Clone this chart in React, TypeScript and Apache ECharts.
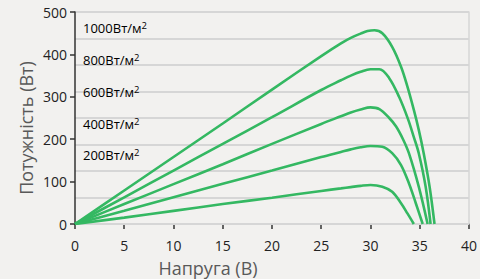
import React, { useEffect, useRef } from "react";
import * as echarts from "echarts";

const xTicks = { min: 0, max: 40, interval: 5 };
const yTicks = { min: 0, max: 500, interval: 100 };

const v1000 = [0, 5, 10, 15, 20, 25, 27, 28, 29, 29.7, 30.4, 31.2, 32.2, 33.1, 33.75, 34.4, 34.9, 35.4, 36.0, 36.5];
const p1000 = [0, 79, 158, 237, 317, 396, 426, 439, 449, 455, 457, 450, 418, 371, 324, 269, 222, 167, 88, 0];

const v800 = [0, 5, 10, 15, 20, 25, 27, 28, 29, 30, 30.9, 31.9, 32.9, 33.8, 34.4, 34.9, 35.6, 36.1];
const p800 = [0, 63, 126, 189, 252, 316, 339, 350, 359, 365, 365, 344, 300, 248, 205, 167, 88, 0];

const v600 = [0, 5, 10, 15, 20, 25, 27, 28, 29, 30, 30.9, 31.9, 32.6, 33.3, 33.9, 34.9, 35.8];
const p600 = [0, 47, 94, 141, 189, 236, 254, 263, 270, 275, 271, 250, 230, 200, 167, 88, 0];

const v400 = [0, 5, 10, 15, 20, 25, 27, 28, 29, 30, 31.2, 32.2, 33.1, 33.9, 34.6, 35.3];
const p400 = [0, 31, 63, 95, 126, 158, 170, 176, 181, 184, 182, 167, 139, 96, 49, 0];

const v200 = [0, 5, 10, 15, 20, 25, 27, 28, 29, 30, 31.2, 32.2, 33.1, 33.75, 34.4];
const p200 = [0, 15, 31, 47, 62, 78, 84, 87, 90, 92, 88, 76, 49, 25, 0];

const curveNames = ["1000Вт/м²", "800Вт/м²", "600Вт/м²", "400Вт/м²", "200Вт/м²"];
const labelBases = ["1000Вт/м", "800Вт/м", "600Вт/м", "400Вт/м", "200Вт/м"];
const curveVs = [v1000, v800, v600, v400, v200];
const curvePs = [p1000, p800, p600, p400, p200];

const xName = "Напруга (В)";
const yName = "Потужність (Вт)";

export default function App() {
  const ref = useRef<HTMLDivElement>(null);
  useEffect(() => {
    if (!ref.current) return;
    const chart = echarts.init(ref.current, null, { renderer: "svg" });
    const font = "'Open Sans', 'Noto Sans', sans-serif";
    const green = "#34b862";
    const series: any[] = curveNames.map((n, i) => ({
      name: n,
      type: "line",
      yAxisIndex: 0,
      data: curveVs[i].map((v, j) => [v, curvePs[i][j]]),
      smooth: 0.35,
      showSymbol: false,
      symbol: "none",
      lineStyle: { color: green, width: 2.6 },
      z: 5,
    }));
    const labelYs = [27, 59, 91, 123, 154];
    chart.setOption({
      animation: false,
      backgroundColor: "#f2f1ef",
      grid: { left: 75, right: 10, top: 12, bottom: 55, containLabel: false },
      xAxis: {
        type: "value",
        min: xTicks.min,
        max: xTicks.max,
        interval: xTicks.interval,
        axisLine: { show: true, lineStyle: { color: "#333", width: 1.5 } },
        axisTick: { show: true, inside: false, length: 5, lineStyle: { color: "#333", width: 1.5 } },
        axisLabel: { color: "#222", fontSize: 14, fontFamily: font, margin: 14 },
        splitLine: { show: false },
      },
      yAxis: [
        {
          type: "value",
          min: yTicks.min,
          max: yTicks.max,
          interval: yTicks.interval,
          axisLine: { show: true, lineStyle: { color: "#333", width: 1.5 } },
          axisTick: { show: true, inside: false, length: 5, lineStyle: { color: "#333", width: 1.5 } },
          axisLabel: { color: "#222", fontSize: 14, fontFamily: font, margin: 8 },
          splitLine: { show: false },
          z: 3,
        },
        {
          type: "value",
          position: "right",
          min: 0,
          max: 500,
          interval: 62.5,
          axisLine: { show: true, lineStyle: { color: "#d6d6d6", width: 1.5 } },
          axisTick: { show: false },
          axisLabel: { show: false },
          splitLine: { show: true, lineStyle: { color: "#d6d6d6", width: 2 } },
          z: 1,
        },
      ],
      series,
      graphic: [
        ...labelBases.map((b, i) => ({
          type: "text",
          x: 83,
          y: labelYs[i],
          style: {
            text: "{b|" + b + "}{s|2}",
            fontFamily: font,
            textVerticalAlign: "middle",
            rich: {
              b: { fontSize: 13, fontFamily: font, color: "#555", lineHeight: 14, verticalAlign: "bottom" },
              s: { fontSize: 9.5, fontFamily: font, color: "#555", lineHeight: 14, verticalAlign: "top", padding: [0, 0, 3, 0] },
            },
          },
          z: 10,
        })),
        {
          type: "text",
          x: 208,
          y: 268,
          style: { text: xName, fontSize: 18, fontFamily: font, fill: "#595959", textAlign: "center", textVerticalAlign: "middle" },
        },
        {
          type: "text",
          x: 26,
          y: 128,
          rotation: Math.PI / 2,
          style: { text: yName, fontSize: 18, fontFamily: font, fill: "#595959", textAlign: "center", textVerticalAlign: "middle" },
        },
      ],
    });
    return () => chart.dispose();
  }, []);
  return <div ref={ref} style={{ width: 480, height: 279, position: "fixed", left: 0, top: 0 }} />;
}
